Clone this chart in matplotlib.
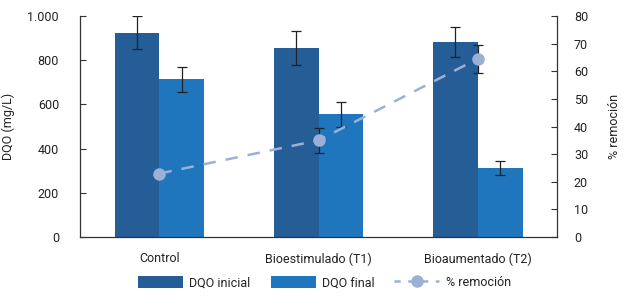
import matplotlib
matplotlib.use("Agg")
import matplotlib.pyplot as plt
import numpy as np
from matplotlib.ticker import FuncFormatter
from matplotlib.lines import Line2D

plt.rcParams['font.family'] = ['Roboto', 'DejaVu Sans']

categories = ["Control", "Bioestimulado (T1)", "Bioaumentado (T2)"]
dqo_inicial = [925, 855, 882]
dqo_inicial_err = [75, 75, 68]
dqo_final = [713, 555, 313]
dqo_final_err = [56, 56, 33]
remocion = [23, 35, 64.5]
remocion_err = [0, 4.4, 5]

c_ini = "#255d97"
c_fin = "#1f76bd"
c_line = "#9cb0d6"
txt = "#222222"
fs = 9

fig = plt.figure(figsize=(6.24, 2.96), dpi=100)
ax = fig.add_axes([0.128, 0.199, 0.765, 0.747])
x = np.arange(len(categories))
w = 0.282
ekw = dict(ecolor="#222222", elinewidth=0.9, capsize=3.5, capthick=0.9)
b1 = ax.bar(x - w/2, dqo_inicial, w, color=c_ini, label="DQO inicial",
            yerr=dqo_inicial_err, error_kw=ekw)
b2 = ax.bar(x + w/2, dqo_final, w, color=c_fin, label="DQO final",
            yerr=dqo_final_err, error_kw=ekw)
ax.set_xlim(-0.5, 2.5)
ax.set_ylim(0, 1000)
ax.set_yticks(np.arange(0, 1001, 200))
ax.yaxis.set_major_formatter(FuncFormatter(lambda v, p: f"{int(v):,}".replace(",", ".")))
ax.set_xticks(x)
ax.set_xticklabels(categories)
ax.tick_params(axis='x', length=0, pad=11, labelsize=fs, labelcolor=txt)
ax.tick_params(axis='y', direction='in', length=4, pad=15, labelsize=fs, labelcolor=txt, color="#333333")
ax.set_ylabel("DQO (mg/L)", fontsize=fs, color=txt, labelpad=9)
for s in ['top', 'right']:
    ax.spines[s].set_visible(False)
for s in ['left', 'bottom']:
    ax.spines[s].set_color("#333333")
    ax.spines[s].set_linewidth(0.9)

ax2 = ax.twinx()
ax2.set_ylim(0, 80)
ax2.set_yticks(np.arange(0, 81, 10))
ln = ax2.errorbar(x, remocion, yerr=remocion_err, color=c_line, ls=(0, (5, 4)), lw=1.8,
                  marker='o', ms=8, mfc=c_line, mec=c_line, ecolor="#222222",
                  elinewidth=0.9, capsize=3.5, capthick=0.9, label="% remoción")
ax2.tick_params(axis='y', direction='in', length=4, pad=12, labelsize=fs, labelcolor=txt, color="#333333")
ax2.set_ylabel("% remoción", fontsize=fs, color=txt, labelpad=14)
for s in ['top', 'left', 'bottom']:
    ax2.spines[s].set_visible(False)
ax2.spines['right'].set_color("#333333")
ax2.spines['right'].set_linewidth(0.9)

labels = ["DQO inicial", "DQO final", "% remoción"]
lh = Line2D([], [], color=c_line, ls=(0, (2.5, 3)), lw=1.8, marker='o', ms=8, mfc=c_line, mec=c_line)
fig.legend([b1, b2, lh], labels, loc='center', bbox_to_anchor=(0.52, 0.045), ncol=3,
           frameon=False, fontsize=fs, handlelength=3.6, handleheight=1.05,
           columnspacing=1.6, handletextpad=0.5, labelcolor=txt)

fig.savefig("out.png", dpi=100)
